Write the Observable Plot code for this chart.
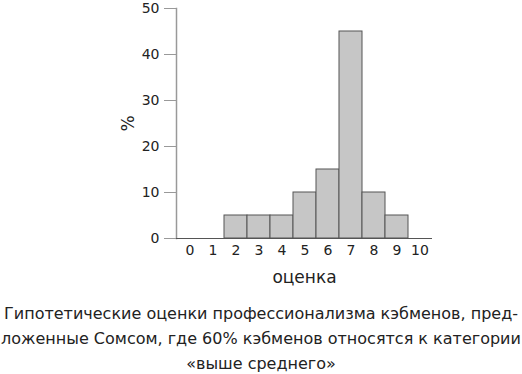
<!DOCTYPE html>
<html><head><meta charset="utf-8">
<script src="https://cdn.jsdelivr.net/npm/d3@7"></script>
<script src="https://cdn.jsdelivr.net/npm/@observablehq/plot@0.6"></script>
<style>
body{margin:0;background:#fff;font-family:"DejaVu Sans",sans-serif;}
#cap{width:522px;text-align:center;font-size:16px;line-height:25px;color:#222;margin-top:11px;white-space:nowrap;}
g[aria-label="x-axis label"], g[aria-label="y-axis label"]{font-size:17px;}
</style></head>
<body><div id="chart"></div>
<div id="cap"></div>
<script>
const categories = [0,1,2,3,4,5,6,7,8,9,10];
const values = [0,0,5,5,5,10,15,45,10,5,0];
const yTicks = [0,10,20,30,40,50];
const captionLines = ["Гипотетические оценки профессионализма кэбменов, пред-","ложенные Сомсом, где 60% кэбменов относятся к категории","«выше среднего»"];
const data = categories.map((c,i)=>({c, v: values[i]})).filter(d=>d.v>0);
const chart = Plot.plot({
  width: 522, height: 290,
  marginLeft: 176, marginRight: 90, marginTop: 8, marginBottom: 52,
  style: {fontFamily: "DejaVu Sans, sans-serif", fontSize: "14px", color: "#222"},
  x: {type: "band", domain: categories, padding: 0},
  y: {domain: [0,50]},
  marks: [
    Plot.frame({anchor: "left", stroke: "#999", strokeWidth: 1.5}),
    Plot.barY(data, {x: "c", y: "v", fill: "#c6c6c6", stroke: "#555", strokeWidth: 1}),
    Plot.ruleY([0], {stroke: "#555"}),
    Plot.axisY(yTicks, {tickSize: 12, tickPadding: 5, stroke: "#999", label: "%", labelAnchor: "center", labelArrow: "none", labelOffset: 55, fontSize: 14}),
    Plot.axisX(categories, {tickSize: 0, tickPadding: 7, label: "оценка", labelAnchor: "center", labelArrow: "none", labelOffset: 44, fontSize: 14})
  ]
});
document.getElementById("chart").appendChild(chart);
document.getElementById("cap").innerHTML = captionLines.join("<br>");
</script></body></html>
